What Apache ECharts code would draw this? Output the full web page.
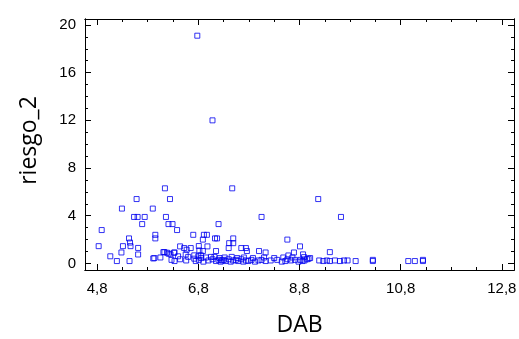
<!DOCTYPE html>
<html>
<head>
<meta charset="utf-8">
<script src="https://cdn.jsdelivr.net/npm/echarts@6/dist/echarts.min.js"></script>
<style>
  html, body { margin: 0; padding: 0; background: #fff; }
  #chart { width: 519px; height: 339px; }
</style>
</head>
<body>
<div id="chart"></div>
<script>
// DAB (x) and riesgo_2 (y)
const dab = [
  6.78, 7.08, 6.14, 7.47, 5.58, 6.24, 9.17, 5.29, 5.90, 5.53,
  5.60, 5.74, 6.16, 8.05, 9.62, 5.69, 6.21, 6.29, 7.20, 4.89,
  6.38, 5.95, 5.95, 6.70, 6.91, 6.97, 6.89, 7.13, 7.17, 7.49,
  7.49, 7.41, 5.43, 5.45, 5.46, 5.31, 4.83, 5.61, 5.61, 5.28,
  5.06, 5.19, 5.44, 5.91, 5.93, 6.13, 6.18, 6.21, 6.25, 6.33,
  6.44, 6.52, 6.65, 6.81, 6.82, 6.89, 6.98, 7.15, 7.40, 7.65,
  7.74, 7.76, 8.00, 8.13, 8.56, 8.58, 8.69, 8.81, 9.40, 8.87,
  8.89, 8.98, 9.01, 6.57, 6.55, 6.72, 6.80, 6.85, 6.11, 6.32,
  6.27, 6.33, 6.44, 6.56, 6.72, 6.75, 6.81, 6.90, 7.00, 7.08,
  7.15, 7.20, 7.24, 7.27, 7.30, 7.34, 7.40, 7.44, 7.49, 7.54,
  7.59, 7.65, 7.69, 7.74, 7.79, 7.85, 7.92, 7.99, 8.05, 8.13,
  8.23, 8.36, 8.45, 8.52, 8.56, 8.63, 8.71, 8.78, 8.82, 8.86,
  8.90, 8.95, 9.19, 9.27, 9.34, 9.40, 9.50, 9.60, 9.68, 9.75,
  9.91, 10.25, 10.25, 10.95, 11.08, 11.24, 11.24, 6.95, 7.05, 7.22,
  7.32, 7.46, 7.57, 7.70, 7.88, 8.10, 8.30, 8.48, 8.66, 6.60,
  6.86, 7.12, 6.40, 6.05
];
const riesgo = [
  19.1, 12.0, 6.3, 6.3, 5.4, 5.4, 5.4, 4.6, 4.6, 3.9,
  3.9, 3.9, 3.9, 3.9, 3.9, 3.3, 3.3, 3.3, 3.3, 2.8,
  2.8, 2.4, 2.1, 2.4, 2.4, 2.4, 2.0, 2.1, 2.1, 2.1,
  1.7, 1.7, 2.1, 1.75, 1.45, 1.45, 1.45, 1.3, 0.75, 0.92,
  0.6, 0.2, 0.2, 0.42, 0.45, 0.95, 0.9, 0.82, 0.76, 0.92,
  1.43, 1.29, 1.29, 1.46, 1.09, 1.04, 1.43, 1.04, 1.29, 1.29,
  1.29, 1.04, 1.04, 0.92, 2.0, 0.67, 0.92, 1.43, 0.95, 0.76,
  0.53, 0.4, 0.45, 1.15, 0.75, 0.68, 0.6, 0.68, 0.95, 0.9,
  0.3, 0.2, 0.35, 0.25, 0.4, 0.2, 0.3, 0.15, 0.25, 0.35,
  0.2, 0.3, 0.15, 0.25, 0.3, 0.2, 0.35, 0.15, 0.25, 0.3,
  0.2, 0.35, 0.15, 0.25, 0.2, 0.3, 0.15, 0.25, 0.3, 0.2,
  0.25, 0.3, 0.15, 0.2, 0.35, 0.25, 0.3, 0.15, 0.3, 0.2,
  0.25, 0.35, 0.25, 0.2, 0.25, 0.2, 0.25, 0.2, 0.25, 0.25,
  0.2, 0.2, 0.3, 0.2, 0.2, 0.2, 0.3, 0.5, 0.55, 0.45,
  0.5, 0.55, 0.45, 0.5, 0.45, 0.5, 0.45, 0.5, 0.5, 0.55,
  0.45, 0.55, 0.6, 0.5
];
const xMajor = [4.8, 6.8, 8.8, 10.8, 12.8];
const xMinor = [5.3, 5.8, 6.3, 7.3, 7.8, 8.3, 9.3, 9.8, 10.3, 11.3, 11.8, 12.3];
const yMajor = [0, 4, 8, 12, 16, 20];
const yMinor = [1, 2, 3, 5, 6, 7, 9, 10, 11, 13, 14, 15, 17, 18, 19];

const chart = echarts.init(document.getElementById('chart'));
const points = dab.map((x, i) => [x, riesgo[i]]);
const fmt = v => v.toFixed(1).replace('.', ',');
const lineStyle = { color: '#000', width: 1 };
const X_RANGE = { min: 4.56, max: 13.04 };
const Y_RANGE = { min: -0.55, max: 20.5 };

function xAxisOf(pos, ticks, len, withLabel, extra) {
  return Object.assign({
    type: 'value', position: pos, ...X_RANGE,
    axisLine: { show: true, onZero: false, lineStyle },
    axisTick: { show: true, inside: true, length: len, customValues: ticks, lineStyle },
    axisLabel: withLabel
      ? { show: true, customValues: ticks, formatter: fmt, color: '#000',
          fontFamily: 'Liberation Sans', fontSize: 15, margin: 11 }
      : { show: false },
    splitLine: { show: false }
  }, extra || {});
}
function yAxisOf(pos, ticks, len, withLabel, extra) {
  return Object.assign({
    type: 'value', position: pos, ...Y_RANGE,
    axisLine: { show: true, onZero: false, lineStyle },
    axisTick: { show: true, inside: true, length: len, customValues: ticks, lineStyle },
    axisLabel: withLabel
      ? { show: true, customValues: ticks, color: '#000',
          fontFamily: 'Liberation Sans', fontSize: 15, margin: 9 }
      : { show: false },
    splitLine: { show: false }
  }, extra || {});
}

const option = {
  animation: false,
  backgroundColor: '#fff',
  grid: { left: 85, right: 5, top: 19, bottom: 69, outerBoundsMode: 'none' },
  xAxis: [
    xAxisOf('bottom', xMajor, 6, true, {
      name: 'DAB', nameLocation: 'middle', nameGap: 44,
      nameTextStyle: { fontFamily: 'Open Sans', fontSize: 23, color: '#000' }
    }),
    xAxisOf('bottom', xMinor, 3, false),
    xAxisOf('top', xMajor, 6, false),
    xAxisOf('top', xMinor, 3, false)
  ],
  yAxis: [
    yAxisOf('left', yMajor, 6, true, {
      name: 'riesgo_2', nameLocation: 'middle', nameGap: 44, nameRotate: 90,
      nameTextStyle: { fontFamily: 'Open Sans', fontSize: 23, color: '#000', padding: [0, 0, 0, 8] }
    }),
    yAxisOf('left', yMinor, 3, false),
    yAxisOf('right', yMajor, 6, false),
    yAxisOf('right', yMinor, 3, false)
  ],
  series: [{
    type: 'scatter',
    xAxisIndex: 0,
    yAxisIndex: 0,
    symbol: 'rect',
    symbolSize: 5,
    itemStyle: { color: 'rgba(0,0,0,0)', borderColor: '#0000f0', borderWidth: 1 },
    data: points
  }]
};
chart.setOption(option);
</script>
</body>
</html>
